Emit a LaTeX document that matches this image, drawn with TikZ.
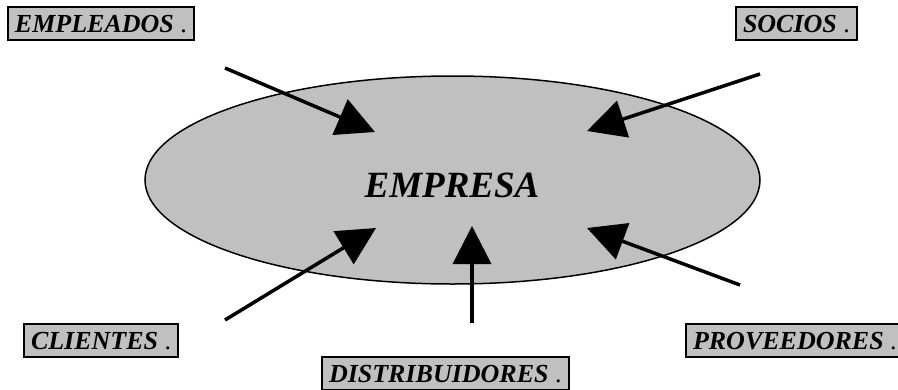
\documentclass[tikz,border=0pt]{standalone}
\usepackage{fontspec}
\setmainfont{Liberation Serif}
\usetikzlibrary{arrows.meta,shapes.geometric}
\definecolor{boxgray}{HTML}{C0C0C0}
\tikzset{
  lbl/.style={draw=black, line width=2pt, fill=boxgray, anchor=west,
    inner xsep=7pt, inner ysep=0pt, minimum height=33pt,
    text height=17.5pt, text depth=0pt,
    font=\fontsize{26}{30}\selectfont\bfseries\itshape},
  bigarrow/.style={line width=3.5pt, -{Triangle[length=38pt,width=38pt]}},
}
\newcommand{\dotafter}{ {\normalfont\fontsize{26}{30}\selectfont .}}
\begin{document}
\begin{tikzpicture}[x=1pt,y=-1pt]
\useasboundingbox (0,0) rectangle (898,389);
\clip (0,0) rectangle (898,389);
\node[ellipse, draw=black, line width=1.5pt, fill=boxgray,
  minimum width=615pt, minimum height=208pt, inner sep=0pt] (emp) at (452.5,180) {};
\node[anchor=base, font=\fontsize{37}{42}\selectfont\bfseries\itshape] (emptext) at (452,197) {EMPRESA};

\node[lbl] (empleados) at (7,23.5) {EMPLEADOS\dotafter};
\node[lbl] (socios) at (735,23.5) {SOCIOS\dotafter};
\node[lbl] (clientes) at (23,340.5) {CLIENTES\dotafter};
\node[lbl] (proveedores) at (685,340.5) {PROVEEDORES\dotafter};
\node[lbl] (distribuidores) at (321,373.5) {DISTRIBUIDORES\dotafter};

\coordinate (a1) at (225,68);  \coordinate (t1) at (375,132);
\coordinate (a2) at (760,74);  \coordinate (t2) at (587,131);
\coordinate (a3) at (740,285); \coordinate (t3) at (587,228);
\coordinate (a4) at (472,323); \coordinate (t4) at (472,226);
\coordinate (a5) at (225,320); \coordinate (t5) at (376,228);

\draw[bigarrow] (a1) -- (t1);
\draw[bigarrow] (a2) -- (t2);
\draw[bigarrow] (a3) -- (t3);
\draw[bigarrow] (a4) -- (t4);
\draw[bigarrow] (a5) -- (t5);
\end{tikzpicture}
\end{document}
